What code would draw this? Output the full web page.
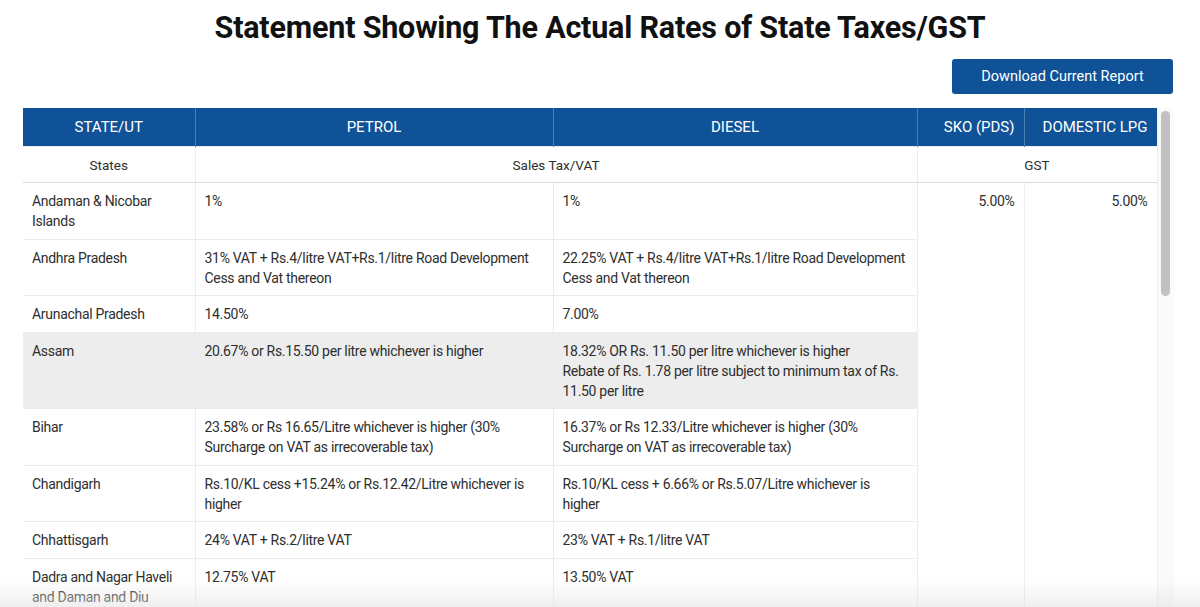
<!DOCTYPE html>
<html>
<head>
<meta charset="utf-8">
<script src="https://cdn.jsdelivr.net/npm/chart.js@4"></script>
<style>
html,body{margin:0;padding:0;background:#fff;overflow:hidden}
body{width:1200px;height:607px;font-family:Roboto,"Noto Sans",sans-serif;color:#2e2e2e;position:relative}
h1{margin:0;position:absolute;top:10px;left:0;width:1200px;text-align:center;font-size:30.5px;font-weight:700;color:#111;letter-spacing:-0.2px}
.btn{position:absolute;left:952px;top:59px;width:221px;height:35px;background:#0F5298;color:#fff;border-radius:3px;font-size:14.5px;line-height:35px;text-align:center}
.wrap{position:absolute;left:23px;top:108px;width:1134px;height:520px;overflow:hidden}
table{border-collapse:collapse;table-layout:fixed;width:1134px;font-size:14px;letter-spacing:-0.3px}
th{background:#0F5298;color:#fff;font-weight:400;font-size:15px;letter-spacing:0;height:38px;padding:0 9px;border-right:1px solid #4a7fb8;text-align:center}
th.r{text-align:right}
td{padding:8px 9px 7.5px;line-height:20px;vertical-align:top;border:1px solid #ececec;border-left:none}
tr.sub td{text-align:center;font-size:13.5px;letter-spacing:0;padding:8px 9px 7px;border-bottom:1px solid #dcdcdc}
tr.hi td.v{background:#ededed}
td.g{text-align:right}
.track{position:absolute;left:1157px;top:108px;width:16px;height:499px;background:#fafafa;border-left:1px solid #eee}
.thumb{position:absolute;left:1161px;top:111px;width:9px;height:185px;background:#c1c1c1;border-radius:5px}
.fade{position:absolute;left:0;top:580px;width:1200px;height:27px;background:linear-gradient(rgba(255,255,255,0),rgba(228,228,228,0.6))}
</style>
</head>
<body>
<h1 id="title"></h1>
<div class="btn" id="btn"></div>
<div class="wrap"><table id="tbl"></table></div>
<div class="track"></div><div class="thumb"></div>
<div class="fade"></div>
<script>
const titleText="Statement Showing The Actual Rates of State Taxes/GST";
const buttonText="Download Current Report";
const columns=["STATE/UT","PETROL","DIESEL","SKO (PDS)","DOMESTIC LPG"];
const groups=["States","Sales Tax/VAT","GST"];
const states=["Andaman & Nicobar Islands","Andhra Pradesh","Arunachal Pradesh","Assam","Bihar","Chandigarh","Chhattisgarh","Dadra and Nagar Haveli and Daman and Diu"];
const petrol=["1%","31% VAT + Rs.4/litre VAT+Rs.1/litre Road Development Cess and Vat thereon","14.50%","20.67% or Rs.15.50 per litre whichever is higher","23.58% or Rs 16.65/Litre whichever is higher (30% Surcharge on VAT as irrecoverable tax)","Rs.10/KL cess +15.24% or Rs.12.42/Litre whichever is higher","24% VAT + Rs.2/litre VAT","12.75% VAT"];
const diesel=["1%","22.25% VAT + Rs.4/litre VAT+Rs.1/litre Road Development Cess and Vat thereon","7.00%","18.32% OR Rs. 11.50 per litre whichever is higher\nRebate of Rs. 1.78 per litre subject to minimum tax of Rs. 11.50 per litre","16.37% or Rs 12.33/Litre whichever is higher (30% Surcharge on VAT as irrecoverable tax)","Rs.10/KL cess + 6.66% or Rs.5.07/Litre whichever is higher","23% VAT + Rs.1/litre VAT","13.50% VAT"];
const sko="5.00%";
const lpg="5.00%";
const hoverRow=3;

document.getElementById("title").textContent=titleText;
document.getElementById("btn").textContent=buttonText;
const widths=[172,358,364,107,133];
const esc=s=>s.replace(/&/g,"&amp;").replace(/\n/g,"<br>");
const tbl=document.getElementById("tbl");
let html="<colgroup>"+widths.map(w=>`<col style="width:${w}px">`).join("")+"</colgroup>";
html+="<tr>"+columns.map((c,i)=>`<th class="${i>=3?'r':''}">${esc(c)}</th>`).join("")+"</tr>";
html+=`<tr class="sub"><td>${groups[0]}</td><td colspan="2">${groups[1]}</td><td colspan="2">${groups[2]}</td></tr>`;
states.forEach((s,i)=>{
  html+=`<tr class="${i===hoverRow?'hi':''}"><td class="v">${esc(s)}</td><td class="v">${esc(petrol[i])}</td><td class="v">${esc(diesel[i])}</td>`;
  if(i===0) html+=`<td class="g" rowspan="${states.length}">${sko}</td><td class="g" rowspan="${states.length}">${lpg}</td>`;
  html+="</tr>";
});
tbl.innerHTML=html;
</script>
</body>
</html>
